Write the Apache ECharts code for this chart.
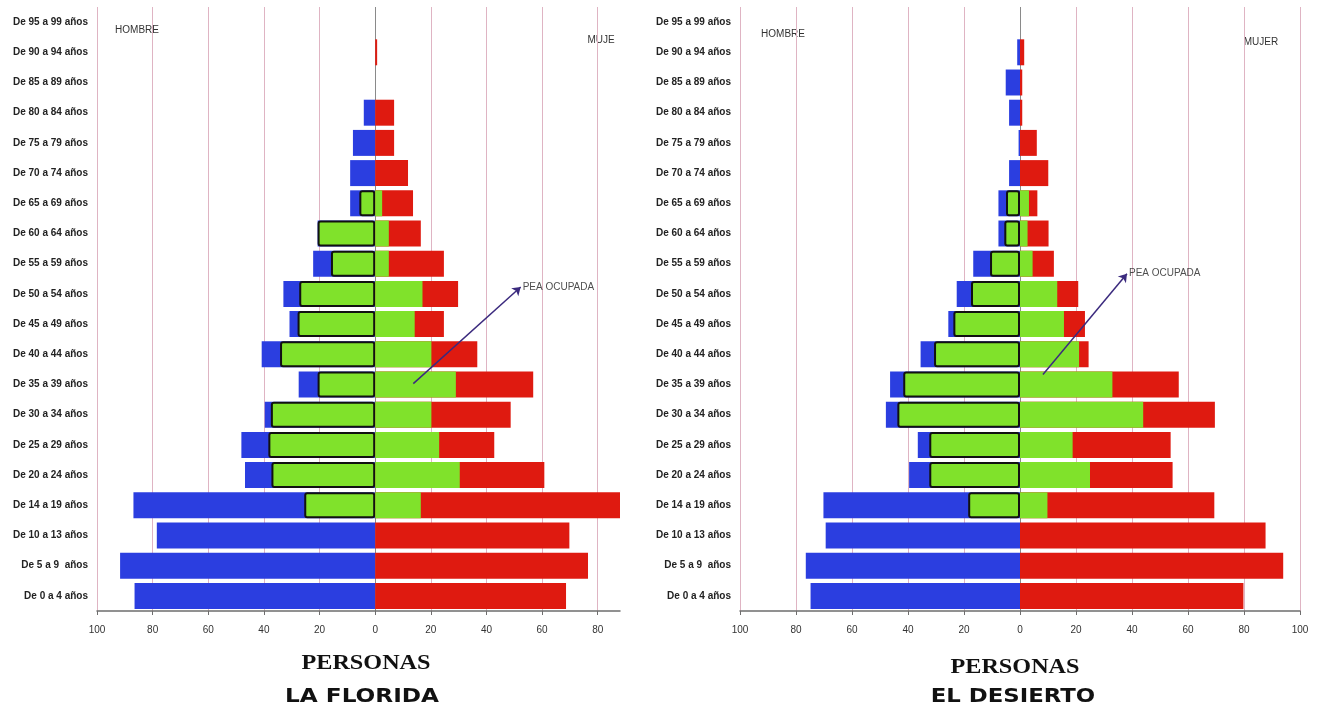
<!DOCTYPE html>
<html>
<head>
<meta charset="utf-8">
<script src="https://cdn.jsdelivr.net/npm/echarts@6/dist/echarts.min.js"></script>
<style>
  html, body { margin: 0; padding: 0; background: #ffffff; }
  #chart { width: 1325px; height: 711px; }
</style>
</head>
<body>
<div id="chart"></div>
<script>
// Age groups, bottom to top
const categories = [
  "De 0 a 4 años", "De 5 a 9  años", "De 10 a 13 años", "De 14 a 19 años",
  "De 20 a 24 años", "De 25 a 29 años", "De 30 a 34 años", "De 35 a 39 años",
  "De 40 a 44 años", "De 45 a 49 años", "De 50 a 54 años", "De 55 a 59 años",
  "De 60 a 64 años", "De 65 a 69 años", "De 70 a 74 años", "De 75 a 79 años",
  "De 80 a 84 años", "De 85 a 89 años", "De 90 a 94 años", "De 95 a 99 años"
];

// La Florida (persons)
const floridaHombres    = [86.5, 91.7, 78.5, 86.9, 46.8, 48.1, 39.7, 27.5, 40.8, 30.8, 33.0, 22.3, 20.7, 9.0, 9.0, 8.0, 4.1, 0, 0, 0];
const floridaHombresPEA = [0, 0, 0, 25.5, 37.3, 38.4, 37.5, 20.7, 34.2, 27.9, 27.3, 15.9, 20.7, 5.7, 0, 0, 0, 0, 0, 0];
const floridaMujeres    = [68.6, 76.5, 69.8, 88.3, 60.8, 42.8, 48.7, 56.8, 36.7, 24.7, 29.8, 24.7, 16.4, 13.6, 11.8, 6.8, 6.8, 0, 0.7, 0];
const floridaMujeresPEA = [0, 0, 0, 16.4, 30.4, 23.0, 20.2, 29.0, 20.2, 14.2, 17.0, 4.9, 4.9, 2.5, 0, 0, 0, 0, 0, 0];

// El Desierto (persons)
const desiertoHombres    = [74.8, 76.5, 69.4, 70.2, 39.6, 36.5, 47.9, 46.4, 35.5, 25.6, 22.6, 16.7, 7.7, 7.7, 3.9, 0.5, 3.9, 5.1, 1.0, 0];
const desiertoHombresPEA = [0, 0, 0, 18.5, 32.4, 32.4, 43.8, 41.7, 30.7, 23.8, 17.5, 10.7, 5.6, 5.0, 0, 0, 0, 0, 0, 0];
const desiertoMujeres    = [79.8, 94.0, 87.7, 69.4, 54.5, 53.8, 69.6, 56.7, 24.5, 23.2, 20.8, 12.1, 10.2, 6.2, 10.1, 6.0, 0.8, 0.8, 1.5, 0];
const desiertoMujeresPEA = [0, 0, 0, 9.8, 25.0, 18.8, 44.0, 33.0, 21.1, 15.7, 13.3, 4.5, 2.7, 3.2, 0, 0, 0, 0, 0, 0];

// "PEA OCUPADA" arrows: [value, row position] where row position 0..20 spans the category bands
const floridaArrow  = [[13.7, 7.53], [52.3, 10.73]];
const desiertoArrow = [[8.2, 7.83], [38.2, 11.17]];

const panelTitles = ["LA FLORIDA", "EL DESIERTO"];
const axisName = "PERSONAS";

const COLORS = {
  hombre: "#2b3ee0",
  mujer: "#df1a10",
  pea: "#80e22b",
  grid: "#dfb4c3",
  zero: "#8a8a8a"
};

// men drawn to the left; empty groups are left without a bar
const left  = arr => arr.map(v => (v === 0 ? null : -v));
const right = arr => arr.map(v => (v === 0 ? null : v));
const labelFont = '"Liberation Sans Narrow", "Liberation Sans", sans-serif';

function gridLineColors() {
  const c = [];
  for (let i = 0; i < 11; i++) c.push(i === 5 ? COLORS.zero : COLORS.grid);
  return c;
}

function xAxisFor(gridIndex, max) {
  return {
    type: "value", gridIndex, min: -100, max, interval: 20,
    axisLine: { show: true, lineStyle: { color: "#6e6e6e", width: 1.5 } },
    axisTick: { show: true, length: 4, lineStyle: { color: "#6e6e6e" } },
    axisLabel: {
      showMaxLabel: max % 20 === 0,
      margin: 14, color: "#333", fontSize: 10, fontFamily: labelFont,
      formatter: v => String(Math.abs(v))
    },
    splitLine: { show: true, showMaxLine: max % 20 === 0, lineStyle: { color: gridLineColors(), width: 1 } }
  };
}

function yAxisFor(gridIndex) {
  return {
    type: "category", gridIndex, data: categories,
    axisLine: { show: false, onZero: false },
    axisTick: { show: false },
    axisLabel: { color: "#222", fontSize: 10, fontWeight: "bold", fontFamily: labelFont, margin: 9 },
    splitLine: { show: false }
  };
}

function annotationAxis(gridIndex) {
  return { type: "value", gridIndex, min: 0, max: 20, show: false };
}

function barSeries(name, data, xi, yi, color, bordered) {
  return {
    name, type: "bar", xAxisIndex: xi, yAxisIndex: yi, data,
    barGap: "-100%", barCategoryGap: "14%",
    itemStyle: bordered
      ? { color, borderColor: "#111", borderWidth: 2, borderRadius: 2 }
      : { color },
    silent: true
  };
}

// arrow drawn as a markLine, caption attached to the arrow tip
function arrowSeries(xi, yi, pts) {
  return {
    type: "scatter", xAxisIndex: xi, yAxisIndex: yi, silent: true,
    data: [pts[1]], symbolSize: 0,
    label: {
      show: true, position: "right", distance: 2, formatter: "PEA OCUPADA",
      color: "#222", fontSize: 10, fontFamily: labelFont
    },
    markLine: {
      silent: true, symbol: ["none", "arrow"], symbolSize: 8,
      lineStyle: { color: "#3b2a7e", width: 1.5, type: "solid" },
      label: { show: false },
      data: [[{ coord: pts[0] }, { coord: pts[1] }]]
    }
  };
}

function textEl(text, x, y, font, color, sx) {
  return { type: "text", x, y, scaleX: sx || 1, silent: true,
    style: { text, font, fill: color || "#222", align: "center", verticalAlign: "middle" } };
}

const chart = echarts.init(document.getElementById("chart"), null, { renderer: "canvas" });

const titleFont = 'bold 20px "DejaVu Sans", sans-serif';
const nameFont = 'bold 22px "Liberation Serif", serif';

chart.setOption({
  animation: false,
  backgroundColor: "#ffffff",
  grid: [
    { left: 97, right: 705, top: 7, bottom: 100 },
    { left: 740, right: 25, top: 7, bottom: 100 }
  ],
  xAxis: [xAxisFor(0, 88), xAxisFor(1, 100)],
  yAxis: [yAxisFor(0), yAxisFor(1), annotationAxis(0), annotationAxis(1)],
  series: [
    barSeries("Hombre", left(floridaHombres), 0, 0, COLORS.hombre, false),
    barSeries("Mujer", right(floridaMujeres), 0, 0, COLORS.mujer, false),
    barSeries("PEA ocupada hombre", left(floridaHombresPEA), 0, 0, COLORS.pea, true),
    barSeries("PEA ocupada mujer", right(floridaMujeresPEA), 0, 0, COLORS.pea, false),
    barSeries("Hombre", left(desiertoHombres), 1, 1, COLORS.hombre, false),
    barSeries("Mujer", right(desiertoMujeres), 1, 1, COLORS.mujer, false),
    barSeries("PEA ocupada hombre", left(desiertoHombresPEA), 1, 1, COLORS.pea, true),
    barSeries("PEA ocupada mujer", right(desiertoMujeresPEA), 1, 1, COLORS.pea, false),
    arrowSeries(0, 2, floridaArrow),
    arrowSeries(1, 3, desiertoArrow)
  ],
  graphic: [
    textEl("HOMBRE", 137, 30, "10px " + labelFont, "#333"),
    textEl("MUJE", 601, 40, "10px " + labelFont, "#333"),
    textEl("HOMBRE", 783, 34, "10px " + labelFont, "#333"),
    textEl("MUJER", 1261, 42, "10px " + labelFont, "#333"),
    textEl(axisName, 366, 663, nameFont, "#111", 1.1),
    textEl(panelTitles[0], 362, 697, titleFont, "#111", 1.16),
    textEl(axisName, 1015, 667, nameFont, "#111", 1.1),
    textEl(panelTitles[1], 1013, 697, titleFont, "#111", 1.14)
  ]
});
</script>
</body>
</html>
